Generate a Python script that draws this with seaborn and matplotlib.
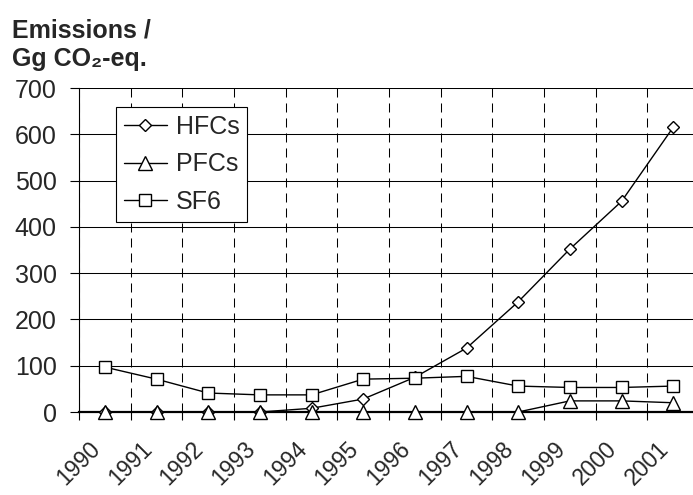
import numpy as np
import pandas as pd
import matplotlib
matplotlib.use('Agg')
import matplotlib.pyplot as plt
import matplotlib.transforms as mtransforms
import seaborn as sns

years = ['1990', '1991', '1992', '1993', '1994', '1995',
         '1996', '1997', '1998', '1999', '2000', '2001']
hfcs = [0, 0, 0, 0, 8, 28, 75, 138, 238, 352, 455, 615]
pfcs = [0, 0, 0, 0, 0, 0, 0, 0, 0, 24, 24, 20]
sf6 = [97, 71, 41, 37, 37, 71, 73, 77, 56, 53, 53, 56]

series = {'HFCs': (hfcs, 'D', 6.2), 'PFCs': (pfcs, '^', 9.5), 'SF6': (sf6, 's', 8.4)}

sns.set_style('white')
plt.rcParams['font.family'] = ['Liberation Sans', 'DejaVu Sans']
plt.rcParams['lines.scale_dashes'] = False

fig = plt.figure(figsize=(6.93, 4.95), dpi=100)
ax = fig.add_axes([79 / 693, 83 / 495, 620 / 693, 324 / 495])

pos = np.arange(len(years))
for name, (vals, mk, ms) in series.items():
    sns.lineplot(x=pos, y=vals, ax=ax, color='black', linewidth=1.0,
                 marker=mk, markersize=ms, markerfacecolor='white',
                 markeredgecolor='black', markeredgewidth=1.0,
                 label=name, clip_on=False, zorder=4)

ax.set_xlim(-0.5, len(years) - 0.5)
ax.set_ylim(0, 700)
ax.set_yticks(range(0, 701, 100))
ax.set_xticks(pos)
ax.set_xticklabels(years, rotation=45, ha='right', va='top')
ax.set_xticks(np.arange(-0.5, len(years) - 0.5, 1.0), minor=True)

# shift the rotated year labels a little to the left, like the original
shift = mtransforms.ScaledTranslation(-9 / 100, 0, fig.dpi_scale_trans)
for lab in ax.get_xticklabels():
    lab.set_transform(lab.get_transform() + shift)

ax.tick_params(axis='y', which='major', direction='out', length=6.5, width=0.8,
               color='black', labelsize=18, pad=9.5, left=True)
ax.tick_params(axis='x', which='major', length=0, labelsize=16.5, pad=18)
ax.tick_params(axis='x', which='minor', direction='out', length=6, width=0.8,
               color='black', bottom=True)

ax.grid(axis='y', which='major', color='black', linewidth=0.75, linestyle='-')
ax.grid(axis='x', which='minor', color='black', linewidth=0.75,
        linestyle=(0, (6.5, 4.3)))
ax.grid(axis='x', which='major', visible=False)
ax.set_axisbelow(True)

for side in ['top', 'right']:
    ax.spines[side].set_visible(False)
ax.spines['left'].set_color('black')
ax.spines['left'].set_linewidth(0.8)
ax.spines['bottom'].set_color('black')
ax.spines['bottom'].set_linewidth(1.6)
ax.set_xlabel('')
ax.set_ylabel('')

leg = ax.legend(loc='upper left', bbox_to_anchor=(37 / 620, 1 - 19 / 324),
                borderaxespad=0, fontsize=18, frameon=True, fancybox=False,
                edgecolor='black', framealpha=1, handlelength=1.75,
                handletextpad=0.35, borderpad=0.3, labelspacing=0.55)
leg.get_frame().set_linewidth(0.8)

fig.text(12 / 693, 1 - 38 / 495, 'Emissions /', fontsize=18, fontweight='bold',
         va='baseline', ha='left')
fig.text(12 / 693, 1 - 66 / 495, 'Gg CO\u2082-eq.', fontsize=18, fontweight='bold',
         va='baseline', ha='left')

fig.savefig('out.png', dpi=100)
